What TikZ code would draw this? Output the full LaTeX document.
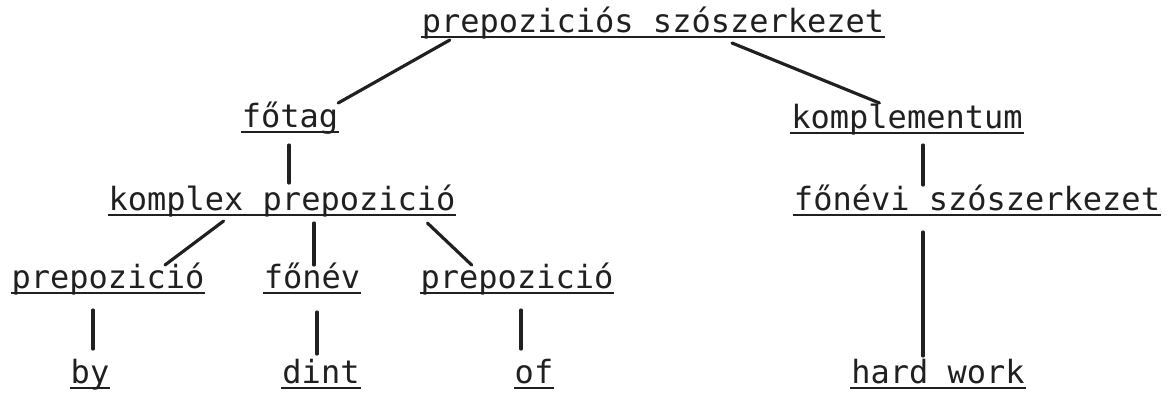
\documentclass[tikz,border=0pt]{standalone}
\usepackage{fontspec}
\newfontfamily\typefont{DejaVu Sans Mono}
\usetikzlibrary{calc}

\definecolor{inkgray}{RGB}{32,32,32}

\begin{document}
\begin{tikzpicture}[
  x=0.01cm,
  y=-0.01cm,
  every node/.style={inner sep=0pt, outer sep=0pt},
  word/.style={font=\typefont\fontsize{9.1}{10}\selectfont, text=inkgray, anchor=base},
  uline/.style={draw=inkgray, line width=0.7pt},
  branch/.style={draw=inkgray, line width=0.9pt, line cap=round}
]

  \path[use as bounding box] (0,0) rectangle (1171,393);

  % Top level
  \node[word] (root) at (653,32) {prepoziciós szószerkezet};

  % Head and complement
  \node[word] (fotag) at (290,127) {főtag};
  \node[word] (kompl) at (907,128) {komplementum};

  \node[word] (kprep) at (282,210) {komplex prepozició};
  \node[word] (fonevi) at (977,210) {főnévi szószerkezet};

  % Parts of the complex preposition
  \node[word] (prepA) at (108,288) {prepozició};
  \node[word] (fonev) at (312,288) {főnév};
  \node[word] (prepB) at (517,288) {prepozició};

  % Words
  \node[word] (by) at (90,383) {by};
  \node[word] (dint) at (321,383) {dint};
  \node[word] (of) at (534,383) {of};
  \node[word] (hard) at (938,383) {hard work};

  % Underlines
  \foreach \n in {root,fotag,kompl,kprep,fonevi,prepA,fonev,prepB,by,dint,of,hard}
    \draw[uline] ($(\n.base west)+(-1,5)$) -- ($(\n.base east)+(1,5)$);

  % Branches
  \draw[branch] ($(root.base west)+(28,8)$) -- ($(fotag.base east)+(0,-24)$);
  \draw[branch] ($(root.base)+(79,11)$) -- ($(kompl.base west)+(88,-25)$);
  \draw[branch] ($(fotag.base)+(-1,18)$) -- ($(kprep.base)+(7,-27)$);
  \draw[branch] ($(kompl.base)+(16,17)$) -- ($(fonevi.base)+(-54,-25)$);

  \draw[branch] ($(kprep.base west)+(115,11)$) -- ($(prepA.base)+(57,-23)$);
  \draw[branch] ($(kprep.base)+(32,13)$) -- ($(fonev.base)+(2,-23)$);
  \draw[branch] ($(kprep.base east)+(-28,13)$) -- ($(prepB.base west)+(51,-23)$);

  \draw[branch] ($(prepA.base)+(-15,22)$) -- ($(by.base)+(3,-34)$);
  \draw[branch] ($(fonev.base)+(5,24)$) -- ($(dint.base)+(-4,-29)$);
  \draw[branch] ($(prepB.base)+(4,22)$) -- ($(of.base)+(-13,-34)$);
  \draw[branch] ($(fonevi.base)+(-54,22)$) -- ($(hard.base)+(-15,-27)$);

\end{tikzpicture}
\end{document}
